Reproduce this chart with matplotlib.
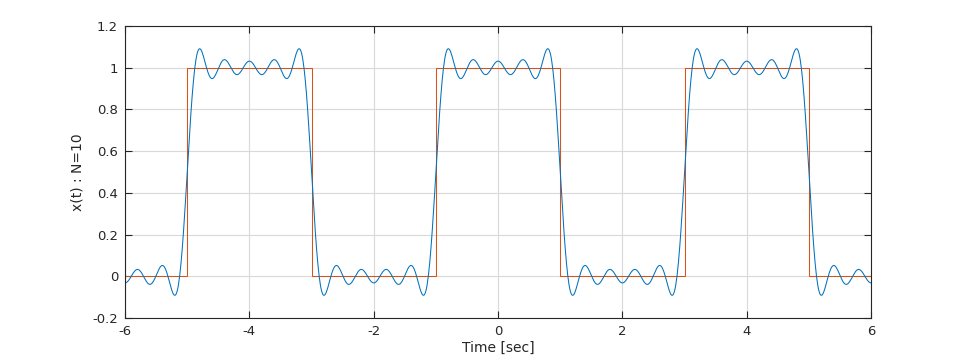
import numpy as np
import matplotlib.pyplot as plt

# square pulse train (period 4, on from -1 to 1)
edges = [-6, -5, -3, -1, 1, 3, 5, 6]
levels = [0, 1, 0, 1, 0, 1, 0]

# Fourier series coefficients of the pulse train, N=10 (only odd terms non-zero)
dc = 0.5
harmonics = [1, 3, 5, 7, 9]
amps = [0.6366, -0.2122, 0.1273, -0.0909, 0.0707]
period = 4.0

t = np.arange(-6, 6.0001, 0.01)
x = np.full_like(t, dc)
for k, a in zip(harmonics, amps):
    x += a * np.cos(2 * np.pi * k * t / period)

plt.rcParams['font.family'] = ['DejaVu Sans']
fig = plt.figure(figsize=(9.62, 3.61), dpi=100)
ax = fig.add_axes([0.130, 0.119, 0.7755, 0.809])

ax.plot(t, x, color='#0072BD', lw=0.75)
ax.stairs(levels, edges, color='#D95319', lw=0.75, baseline=None)

ax.set_xlim(-6, 6)
ax.set_ylim(-0.2, 1.2)
ax.set_xticks([-6, -4, -2, 0, 2, 4, 6])
ax.set_yticks([-0.2, 0, 0.2, 0.4, 0.6, 0.8, 1, 1.2])
ax.set_yticklabels(['-0.2', '0', '0.2', '0.4', '0.6', '0.8', '1', '1.2'])
ax.set_xticklabels(['-6', '-4', '-2', '0', '2', '4', '6'])

ax.grid(True, color='#d9d9d9', lw=0.8)
ax.set_axisbelow(True)
ax.tick_params(direction='in', top=True, right=True, length=5, width=0.8,
               colors='#262626', labelsize=9.5, pad=5)
for s in ax.spines.values():
    s.set_color('#262626')
    s.set_linewidth(0.8)

ax.set_xlabel('Time [sec]', fontsize=10, color='#262626', labelpad=2)
ax.set_ylabel('x(t) : N=10', fontsize=10, color='#262626', labelpad=6)

fig.savefig('out.png', dpi=100)
